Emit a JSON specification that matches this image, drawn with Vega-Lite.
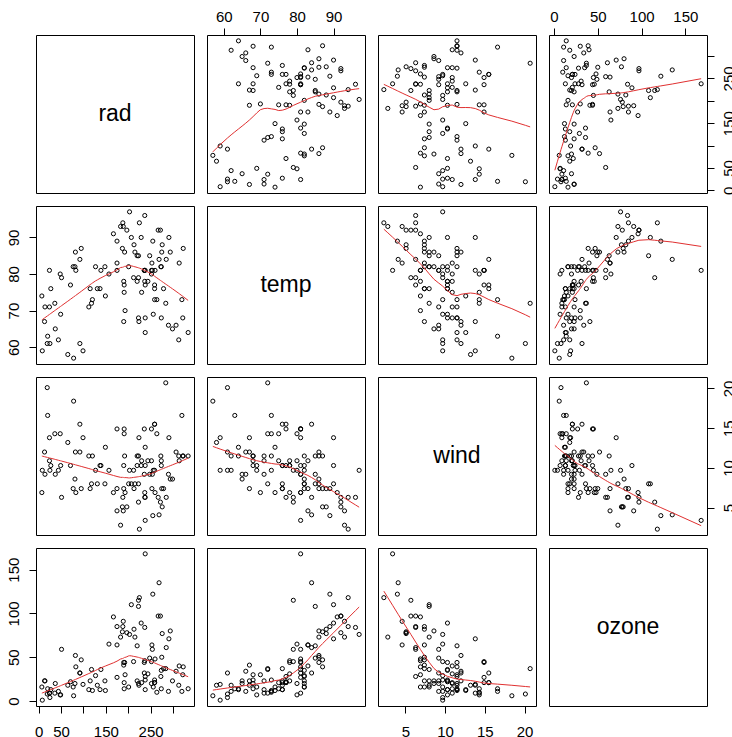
{
"$schema":"https://vega.github.io/schema/vega-lite/v6.json",
"background":"white",
"padding":{"left":5,"top":8,"right":0,"bottom":0},
"datasets":{"aq":[
{"ozone":41,"rad":190,"wind":7.4,"temp":67},{"ozone":36,"rad":118,"wind":8.0,"temp":72},{"ozone":12,"rad":149,"wind":12.6,"temp":74},{"ozone":18,"rad":313,"wind":11.5,"temp":62},{"ozone":23,"rad":299,"wind":8.6,"temp":65},{"ozone":19,"rad":99,"wind":13.8,"temp":59},{"ozone":8,"rad":19,"wind":20.1,"temp":61},{"ozone":16,"rad":256,"wind":9.7,"temp":69},{"ozone":11,"rad":290,"wind":9.2,"temp":66},{"ozone":14,"rad":274,"wind":10.9,"temp":68},{"ozone":18,"rad":65,"wind":13.2,"temp":58},{"ozone":14,"rad":334,"wind":11.5,"temp":64},{"ozone":34,"rad":307,"wind":12.0,"temp":66},{"ozone":6,"rad":78,"wind":18.4,"temp":57},{"ozone":30,"rad":322,"wind":11.5,"temp":68},{"ozone":11,"rad":44,"wind":9.7,"temp":62},{"ozone":1,"rad":8,"wind":9.7,"temp":59},{"ozone":11,"rad":320,"wind":16.6,"temp":73},{"ozone":4,"rad":25,"wind":9.7,"temp":61},{"ozone":32,"rad":92,"wind":12.0,"temp":61},{"ozone":23,"rad":13,"wind":12.0,"temp":67},{"ozone":45,"rad":252,"wind":14.9,"temp":81},{"ozone":115,"rad":223,"wind":5.7,"temp":79},{"ozone":37,"rad":279,"wind":7.4,"temp":76},{"ozone":29,"rad":127,"wind":9.7,"temp":82},{"ozone":71,"rad":291,"wind":13.8,"temp":90},{"ozone":39,"rad":323,"wind":11.5,"temp":87},{"ozone":23,"rad":148,"wind":8.0,"temp":82},{"ozone":21,"rad":191,"wind":14.9,"temp":77},{"ozone":37,"rad":284,"wind":20.7,"temp":72},{"ozone":20,"rad":37,"wind":9.2,"temp":65},{"ozone":12,"rad":120,"wind":11.5,"temp":73},{"ozone":13,"rad":137,"wind":10.3,"temp":76},{"ozone":135,"rad":269,"wind":4.1,"temp":84},{"ozone":49,"rad":248,"wind":9.2,"temp":85},{"ozone":32,"rad":236,"wind":9.2,"temp":81},{"ozone":64,"rad":175,"wind":4.6,"temp":83},{"ozone":40,"rad":314,"wind":10.9,"temp":83},{"ozone":77,"rad":276,"wind":5.1,"temp":88},{"ozone":97,"rad":267,"wind":6.3,"temp":92},{"ozone":97,"rad":272,"wind":5.7,"temp":92},{"ozone":85,"rad":175,"wind":7.4,"temp":89},{"ozone":10,"rad":264,"wind":14.3,"temp":73},{"ozone":27,"rad":175,"wind":14.9,"temp":81},{"ozone":7,"rad":48,"wind":14.3,"temp":80},{"ozone":48,"rad":260,"wind":6.9,"temp":81},{"ozone":35,"rad":274,"wind":10.3,"temp":82},{"ozone":61,"rad":285,"wind":6.3,"temp":84},{"ozone":79,"rad":187,"wind":5.1,"temp":87},{"ozone":63,"rad":220,"wind":11.5,"temp":85},{"ozone":16,"rad":7,"wind":6.9,"temp":74},{"ozone":80,"rad":294,"wind":8.6,"temp":86},{"ozone":108,"rad":223,"wind":8.0,"temp":85},{"ozone":20,"rad":81,"wind":8.6,"temp":82},{"ozone":52,"rad":82,"wind":12.0,"temp":86},{"ozone":82,"rad":213,"wind":7.4,"temp":88},{"ozone":50,"rad":275,"wind":7.4,"temp":86},{"ozone":64,"rad":253,"wind":7.4,"temp":83},{"ozone":59,"rad":254,"wind":9.2,"temp":81},{"ozone":39,"rad":83,"wind":6.9,"temp":81},{"ozone":9,"rad":24,"wind":13.8,"temp":81},{"ozone":16,"rad":77,"wind":7.4,"temp":82},{"ozone":122,"rad":255,"wind":4.0,"temp":89},{"ozone":89,"rad":229,"wind":10.3,"temp":90},{"ozone":110,"rad":207,"wind":8.0,"temp":90},{"ozone":44,"rad":192,"wind":11.5,"temp":86},{"ozone":28,"rad":273,"wind":11.5,"temp":82},{"ozone":65,"rad":157,"wind":9.7,"temp":80},{"ozone":22,"rad":71,"wind":10.3,"temp":77},{"ozone":59,"rad":51,"wind":6.3,"temp":79},{"ozone":23,"rad":115,"wind":7.4,"temp":76},{"ozone":31,"rad":244,"wind":10.9,"temp":78},{"ozone":44,"rad":190,"wind":10.3,"temp":78},{"ozone":21,"rad":259,"wind":15.5,"temp":77},{"ozone":9,"rad":36,"wind":14.3,"temp":72},{"ozone":45,"rad":212,"wind":9.7,"temp":79},{"ozone":168,"rad":238,"wind":3.4,"temp":81},{"ozone":73,"rad":215,"wind":8.0,"temp":86},{"ozone":76,"rad":203,"wind":9.7,"temp":97},{"ozone":118,"rad":225,"wind":2.3,"temp":94},{"ozone":84,"rad":237,"wind":6.3,"temp":96},{"ozone":85,"rad":188,"wind":6.3,"temp":94},{"ozone":96,"rad":167,"wind":6.9,"temp":91},{"ozone":78,"rad":197,"wind":5.1,"temp":92},{"ozone":73,"rad":183,"wind":2.8,"temp":93},{"ozone":91,"rad":189,"wind":4.6,"temp":93},{"ozone":47,"rad":95,"wind":7.4,"temp":87},{"ozone":32,"rad":92,"wind":15.5,"temp":84},{"ozone":20,"rad":252,"wind":10.9,"temp":80},{"ozone":23,"rad":220,"wind":10.3,"temp":78},{"ozone":21,"rad":230,"wind":10.9,"temp":75},{"ozone":24,"rad":259,"wind":9.7,"temp":73},{"ozone":44,"rad":236,"wind":14.9,"temp":81},{"ozone":21,"rad":259,"wind":15.5,"temp":76},{"ozone":28,"rad":238,"wind":6.3,"temp":77},{"ozone":9,"rad":24,"wind":10.9,"temp":71},{"ozone":13,"rad":112,"wind":11.5,"temp":71},{"ozone":46,"rad":237,"wind":6.9,"temp":78},{"ozone":18,"rad":224,"wind":13.8,"temp":67},{"ozone":13,"rad":27,"wind":10.3,"temp":76},{"ozone":24,"rad":238,"wind":10.3,"temp":68},{"ozone":16,"rad":201,"wind":8.0,"temp":82},{"ozone":13,"rad":238,"wind":12.6,"temp":64},{"ozone":23,"rad":14,"wind":9.2,"temp":71},{"ozone":36,"rad":139,"wind":10.3,"temp":81},{"ozone":7,"rad":49,"wind":10.3,"temp":69},{"ozone":14,"rad":20,"wind":16.6,"temp":63},{"ozone":30,"rad":193,"wind":6.9,"temp":70},{"ozone":14,"rad":191,"wind":14.3,"temp":75},{"ozone":18,"rad":131,"wind":8.0,"temp":76},{"ozone":20,"rad":223,"wind":11.5,"temp":68}
]},
"columns":4,
"spacing":13,
"bounds":"flush",
"concat":[
{"width":158,"height":158,"data":{"values":[{"name":"rad"}]},"mark":{"type":"text","fontSize":23,"font":"Liberation Sans","baseline":"middle","align":"center","color":"black"},"encoding":{"text":{"field":"name"},"x":{"datum":0.5,"type":"quantitative","scale":{"domain":[0,1]},"axis":null},"y":{"datum":0.5,"type":"quantitative","scale":{"domain":[0,1]},"axis":null}}},
{"width":158,"height":158,"data":{"name":"aq"},
 "encoding":{"x":{"field":"temp","type":"quantitative","scale":{"domain":[55.4,98.6],"nice":false,"zero":false},"axis":{"orient":"top","values":[60,70,80,90],"labelPadding":4}},
  "y":{"field":"rad","type":"quantitative","scale":{"domain":[-6.08,347.08],"nice":false,"zero":false},"axis":null}},
 "layer":[{"mark":{"type":"point","shape":"circle","filled":false,"color":"black","size":17,"strokeWidth":1,"opacity":1}},
  {"transform":[{"loess":"rad","on":"temp","bandwidth":0.6667}],"mark":{"type":"line","color":"#e03030","strokeWidth":1}}]},
{"width":158,"height":158,"data":{"name":"aq"},
 "encoding":{"x":{"field":"wind","type":"quantitative","scale":{"domain":[1.564,21.436],"nice":false,"zero":false},"axis":null},
  "y":{"field":"rad","type":"quantitative","scale":{"domain":[-6.08,347.08],"nice":false,"zero":false},"axis":null}},
 "layer":[{"mark":{"type":"point","shape":"circle","filled":false,"color":"black","size":17,"strokeWidth":1,"opacity":1}},
  {"transform":[{"loess":"rad","on":"wind","bandwidth":0.6667}],"mark":{"type":"line","color":"#e03030","strokeWidth":1}}]},
{"width":158,"height":158,"data":{"name":"aq"},
 "encoding":{"x":{"field":"ozone","type":"quantitative","scale":{"domain":[-5.68,174.68],"nice":false,"zero":false},"axis":{"orient":"top","values":[0,50,100,150],"labelPadding":4}},
  "y":{"field":"rad","type":"quantitative","scale":{"domain":[-6.08,347.08],"nice":false,"zero":false},"axis":{"orient":"right","values":[0,50,100,150,200,250,300],"labelExpr":"datum.value==100||datum.value==200||datum.value==300?'':datum.label","labelAngle":-90,"labelAlign":"center","labelBaseline":"top","labelPadding":7}}},
 "layer":[{"mark":{"type":"point","shape":"circle","filled":false,"color":"black","size":17,"strokeWidth":1,"opacity":1}},
  {"transform":[{"loess":"rad","on":"ozone","bandwidth":0.6667}],"mark":{"type":"line","color":"#e03030","strokeWidth":1}}]},
{"width":158,"height":158,"data":{"name":"aq"},
 "encoding":{"x":{"field":"rad","type":"quantitative","scale":{"domain":[-6.08,347.08],"nice":false,"zero":false},"axis":null},
  "y":{"field":"temp","type":"quantitative","scale":{"domain":[55.4,98.6],"nice":false,"zero":false},"axis":{"orient":"left","values":[60,70,80,90],"labelAngle":-90,"labelAlign":"center","labelBaseline":"bottom","labelPadding":8}}},
 "layer":[{"mark":{"type":"point","shape":"circle","filled":false,"color":"black","size":17,"strokeWidth":1,"opacity":1}},
  {"transform":[{"loess":"temp","on":"rad","bandwidth":0.6667}],"mark":{"type":"line","color":"#e03030","strokeWidth":1}}]},
{"width":158,"height":158,"data":{"values":[{"name":"temp"}]},"mark":{"type":"text","fontSize":23,"font":"Liberation Sans","baseline":"middle","align":"center","color":"black"},"encoding":{"text":{"field":"name"},"x":{"datum":0.5,"type":"quantitative","scale":{"domain":[0,1]},"axis":null},"y":{"datum":0.5,"type":"quantitative","scale":{"domain":[0,1]},"axis":null}}},
{"width":158,"height":158,"data":{"name":"aq"},
 "encoding":{"x":{"field":"wind","type":"quantitative","scale":{"domain":[1.564,21.436],"nice":false,"zero":false},"axis":null},
  "y":{"field":"temp","type":"quantitative","scale":{"domain":[55.4,98.6],"nice":false,"zero":false},"axis":null}},
 "layer":[{"mark":{"type":"point","shape":"circle","filled":false,"color":"black","size":17,"strokeWidth":1,"opacity":1}},
  {"transform":[{"loess":"temp","on":"wind","bandwidth":0.6667}],"mark":{"type":"line","color":"#e03030","strokeWidth":1}}]},
{"width":158,"height":158,"data":{"name":"aq"},
 "encoding":{"x":{"field":"ozone","type":"quantitative","scale":{"domain":[-5.68,174.68],"nice":false,"zero":false},"axis":null},
  "y":{"field":"temp","type":"quantitative","scale":{"domain":[55.4,98.6],"nice":false,"zero":false},"axis":null}},
 "layer":[{"mark":{"type":"point","shape":"circle","filled":false,"color":"black","size":17,"strokeWidth":1,"opacity":1}},
  {"transform":[{"loess":"temp","on":"ozone","bandwidth":0.6667}],"mark":{"type":"line","color":"#e03030","strokeWidth":1}}]},
{"width":158,"height":158,"data":{"name":"aq"},
 "encoding":{"x":{"field":"rad","type":"quantitative","scale":{"domain":[-6.08,347.08],"nice":false,"zero":false},"axis":null},
  "y":{"field":"wind","type":"quantitative","scale":{"domain":[1.564,21.436],"nice":false,"zero":false},"axis":null}},
 "layer":[{"mark":{"type":"point","shape":"circle","filled":false,"color":"black","size":17,"strokeWidth":1,"opacity":1}},
  {"transform":[{"loess":"wind","on":"rad","bandwidth":0.6667}],"mark":{"type":"line","color":"#e03030","strokeWidth":1}}]},
{"width":158,"height":158,"data":{"name":"aq"},
 "encoding":{"x":{"field":"temp","type":"quantitative","scale":{"domain":[55.4,98.6],"nice":false,"zero":false},"axis":null},
  "y":{"field":"wind","type":"quantitative","scale":{"domain":[1.564,21.436],"nice":false,"zero":false},"axis":null}},
 "layer":[{"mark":{"type":"point","shape":"circle","filled":false,"color":"black","size":17,"strokeWidth":1,"opacity":1}},
  {"transform":[{"loess":"wind","on":"temp","bandwidth":0.6667}],"mark":{"type":"line","color":"#e03030","strokeWidth":1}}]},
{"width":158,"height":158,"data":{"values":[{"name":"wind"}]},"mark":{"type":"text","fontSize":23,"font":"Liberation Sans","baseline":"middle","align":"center","color":"black"},"encoding":{"text":{"field":"name"},"x":{"datum":0.5,"type":"quantitative","scale":{"domain":[0,1]},"axis":null},"y":{"datum":0.5,"type":"quantitative","scale":{"domain":[0,1]},"axis":null}}},
{"width":158,"height":158,"data":{"name":"aq"},
 "encoding":{"x":{"field":"ozone","type":"quantitative","scale":{"domain":[-5.68,174.68],"nice":false,"zero":false},"axis":null},
  "y":{"field":"wind","type":"quantitative","scale":{"domain":[1.564,21.436],"nice":false,"zero":false},"axis":{"orient":"right","values":[5,10,15,20],"labelAngle":-90,"labelAlign":"center","labelBaseline":"top","labelPadding":7}}},
 "layer":[{"mark":{"type":"point","shape":"circle","filled":false,"color":"black","size":17,"strokeWidth":1,"opacity":1}},
  {"transform":[{"loess":"wind","on":"ozone","bandwidth":0.6667}],"mark":{"type":"line","color":"#e03030","strokeWidth":1}}]},
{"width":158,"height":158,"data":{"name":"aq"},
 "encoding":{"x":{"field":"rad","type":"quantitative","scale":{"domain":[-6.08,347.08],"nice":false,"zero":false},"axis":{"orient":"bottom","values":[0,50,100,150,200,250,300],"labelExpr":"datum.value==100||datum.value==200||datum.value==300?'':datum.label","labelPadding":11}},
  "y":{"field":"ozone","type":"quantitative","scale":{"domain":[-5.68,174.68],"nice":false,"zero":false},"axis":{"orient":"left","values":[0,50,100,150],"labelAngle":-90,"labelAlign":"center","labelBaseline":"bottom","labelPadding":8}}},
 "layer":[{"mark":{"type":"point","shape":"circle","filled":false,"color":"black","size":17,"strokeWidth":1,"opacity":1}},
  {"transform":[{"loess":"ozone","on":"rad","bandwidth":0.6667}],"mark":{"type":"line","color":"#e03030","strokeWidth":1}}]},
{"width":158,"height":158,"data":{"name":"aq"},
 "encoding":{"x":{"field":"temp","type":"quantitative","scale":{"domain":[55.4,98.6],"nice":false,"zero":false},"axis":null},
  "y":{"field":"ozone","type":"quantitative","scale":{"domain":[-5.68,174.68],"nice":false,"zero":false},"axis":null}},
 "layer":[{"mark":{"type":"point","shape":"circle","filled":false,"color":"black","size":17,"strokeWidth":1,"opacity":1}},
  {"transform":[{"loess":"ozone","on":"temp","bandwidth":0.6667}],"mark":{"type":"line","color":"#e03030","strokeWidth":1}}]},
{"width":158,"height":158,"data":{"name":"aq"},
 "encoding":{"x":{"field":"wind","type":"quantitative","scale":{"domain":[1.564,21.436],"nice":false,"zero":false},"axis":{"orient":"bottom","values":[5,10,15,20],"labelPadding":11}},
  "y":{"field":"ozone","type":"quantitative","scale":{"domain":[-5.68,174.68],"nice":false,"zero":false},"axis":null}},
 "layer":[{"mark":{"type":"point","shape":"circle","filled":false,"color":"black","size":17,"strokeWidth":1,"opacity":1}},
  {"transform":[{"loess":"ozone","on":"wind","bandwidth":0.6667}],"mark":{"type":"line","color":"#e03030","strokeWidth":1}}]},
{"width":158,"height":158,"data":{"values":[{"name":"ozone"}]},"mark":{"type":"text","fontSize":23,"font":"Liberation Sans","baseline":"middle","align":"center","color":"black"},"encoding":{"text":{"field":"name"},"x":{"datum":0.5,"type":"quantitative","scale":{"domain":[0,1]},"axis":null},"y":{"datum":0.5,"type":"quantitative","scale":{"domain":[0,1]},"axis":null}}}
],
"config":{
 "view":{"stroke":"black","strokeWidth":1},
 "axis":{"domain":false,"grid":false,"ticks":true,"tickColor":"black","tickWidth":1,"tickSize":7,"labelColor":"black","labelFont":"Liberation Sans","labelFontSize":15,"title":null,"labelFlush":false,"labelOverlap":false}
}
}
